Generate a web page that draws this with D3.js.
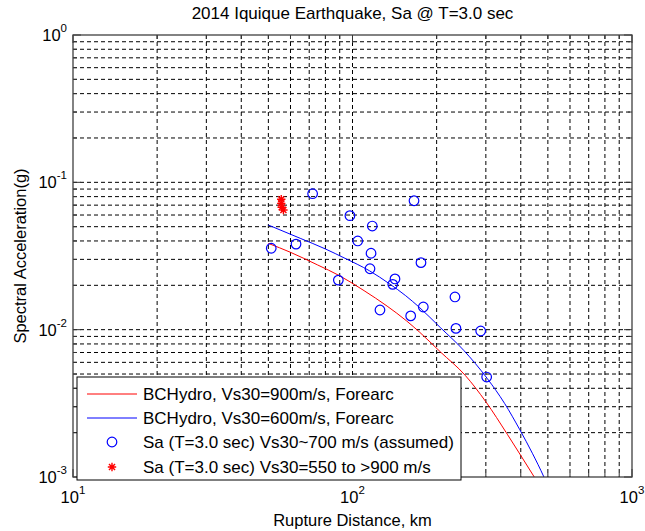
<!DOCTYPE html>
<html><head><meta charset="utf-8">
<script src="https://cdn.jsdelivr.net/npm/d3@7"></script>
<style>
body{margin:0;background:#fff;}
text{font-family:"Liberation Sans",Arial,Helvetica,sans-serif;fill:#000;}
</style>
</head><body>
<svg id="chart" width="645" height="531"></svg>
<script>
// ---------- data ----------
const titleText = "2014 Iquique Earthquake, Sa @ T=3.0 sec";
const xLabelText = "Rupture Distance, km";
const yLabelText = "Spectral Acceleration(g)";

const xMajorTicks = [10, 100, 1000];
const xTickExps = ["1", "2", "3"];
const yMajorTicks = [0.001, 0.01, 0.1, 1];
const yTickExps = ["-3", "-2", "-1", "0"];

// observed Sa, Vs30~700 m/s (assumed)
const obsDist = [51.2, 62.8, 72.0, 89.0, 97.9, 104.4, 117.7, 116.5, 115.5, 125.4,
                 141.9, 139.3, 166, 175.8, 161.5, 179.2, 232.6, 234.5, 287.5, 302];
const obsSa   = [0.0357, 0.0381, 0.0837, 0.0217, 0.0594, 0.040, 0.0505, 0.033, 0.0259, 0.0136,
                 0.0221, 0.0203, 0.075, 0.0285, 0.0124, 0.01425, 0.01667, 0.0102, 0.0098, 0.00477];

// observed Sa, Vs30=550 to >900 m/s
const starDist = [55.6, 55.6, 55.8, 56.6];
const starSa   = [0.0767, 0.0720, 0.0677, 0.0649];

// BCHydro Vs30=900 m/s forearc
const bc900Dist = [50, 60, 75, 90, 110, 133, 156, 174, 206, 253, 300, 358, 400, 450];
const bc900Sa   = [0.0385, 0.0335, 0.0275, 0.0232, 0.0184, 0.01445, 0.01148, 0.0096, 0.00708,
                   0.0049, 0.00324, 0.00195, 0.0014, 0.00098];

// BCHydro Vs30=600 m/s forearc
const bc600Dist = [50, 65, 80, 94, 115, 136, 155, 174, 206, 250, 303, 350, 397, 440, 484, 500];
const bc600Sa   = [0.0513, 0.0417, 0.0353, 0.0305, 0.0251, 0.0204, 0.0170, 0.0141, 0.01035,
                   0.00724, 0.00468, 0.00316, 0.00209, 0.00145, 0.001, 0.00087];

const legendLabels = [
  "BCHydro, Vs30=900m/s, Forearc",
  "BCHydro, Vs30=600m/s, Forearc",
  "Sa (T=3.0 sec) Vs30~700 m/s (assumed)",
  "Sa (T=3.0 sec) Vs30=550 to >900 m/s"
];

// ---------- layout ----------
const svg = d3.select("#chart");
const L = 73, R = 632, T = 35, B = 477;
const x = d3.scaleLog().domain([10, 1000]).range([L, R]);
const y = d3.scaleLog().domain([0.001, 1]).range([B, T]);
const RED = "#ff0000", BLUE = "#0000ff";

svg.append("rect").attr("width", 645).attr("height", 531).attr("fill", "#fff");
svg.append("rect").attr("x", L).attr("y", T).attr("width", R - L).attr("height", B - T).attr("fill", "#fff");

// grid
const xAll = x.ticks();
const yAll = y.ticks();
const grid = svg.append("g").attr("stroke", "#000").attr("stroke-width", 1).attr("stroke-dasharray", "4,3");
grid.selectAll("line.gx").data(xAll.filter(v => v > 10 && v < 1000)).enter().append("line")
  .attr("x1", d => x(d)).attr("x2", d => x(d)).attr("y1", T).attr("y2", B);
grid.selectAll("line.gy").data(yAll.filter(v => v > 0.001 && v < 1)).enter().append("line")
  .attr("y1", d => y(d)).attr("y2", d => y(d)).attr("x1", L).attr("x2", R);

// tick marks (inside, all four sides)
const isMajor = v => Math.abs(Math.log10(v) - Math.round(Math.log10(v))) < 1e-9;
const tk = svg.append("g").attr("stroke", "#333").attr("stroke-width", 1);
xAll.forEach(v => {
  const len = isMajor(v) ? 8 : 4;
  tk.append("line").attr("x1", x(v)).attr("x2", x(v)).attr("y1", B).attr("y2", B - len);
  tk.append("line").attr("x1", x(v)).attr("x2", x(v)).attr("y1", T).attr("y2", T + len);
});
yAll.forEach(v => {
  const len = isMajor(v) ? 8 : 4;
  tk.append("line").attr("y1", y(v)).attr("y2", y(v)).attr("x1", L).attr("x2", L + len);
  tk.append("line").attr("y1", y(v)).attr("y2", y(v)).attr("x1", R).attr("x2", R - len);
});

// clip
svg.append("clipPath").attr("id", "plotclip").append("rect")
  .attr("x", L).attr("y", T).attr("width", R - L).attr("height", B - T);

const line = d3.line().x(d => x(d[0])).y(d => y(d[1])).curve(d3.curveMonotoneX);
const plot = svg.append("g").attr("clip-path", "url(#plotclip)");
plot.append("path").datum(d3.zip(bc900Dist, bc900Sa)).attr("d", line)
  .attr("fill", "none").attr("stroke", RED).attr("stroke-width", 1);
plot.append("path").datum(d3.zip(bc600Dist, bc600Sa)).attr("d", line)
  .attr("fill", "none").attr("stroke", BLUE).attr("stroke-width", 1);

plot.selectAll("circle.obs").data(d3.zip(obsDist, obsSa)).enter().append("circle")
  .attr("cx", d => x(d[0])).attr("cy", d => y(d[1])).attr("r", 4.8)
  .attr("fill", "none").attr("stroke", BLUE).attr("stroke-width", 1.2);

function starPath(cx, cy, r) {
  const a = r * 0.72;
  return `M${cx - r},${cy}L${cx + r},${cy}M${cx},${cy - r}L${cx},${cy + r}` +
         `M${cx - a},${cy - a}L${cx + a},${cy + a}M${cx - a},${cy + a}L${cx + a},${cy - a}`;
}
plot.selectAll("path.star").data(d3.zip(starDist, starSa)).enter().append("path")
  .attr("d", d => starPath(x(d[0]), y(d[1]), 4.2))
  .attr("stroke", RED).attr("stroke-width", 1.4).attr("fill", "none");

// frame
svg.append("rect").attr("x", L).attr("y", T).attr("width", R - L).attr("height", B - T)
  .attr("fill", "none").attr("stroke", "#404040").attr("stroke-width", 1.3);

// tick labels
const fs = 16.5;
xMajorTicks.forEach((v, i) => {
  const t = svg.append("text").attr("x", x(v)).attr("y", 503).attr("text-anchor", "middle")
    .attr("font-size", fs);
  t.append("tspan").text("10");
  t.append("tspan").attr("dy", -9).attr("font-size", 11.5).text(xTickExps[i]);
});
yMajorTicks.forEach((v, i) => {
  const t = svg.append("text").attr("x", 67).attr("y", y(v) + 6).attr("text-anchor", "end")
    .attr("font-size", fs);
  t.append("tspan").text("10");
  t.append("tspan").attr("dy", -9).attr("font-size", 11.5).text(yTickExps[i]);
});

// titles
svg.append("text").attr("x", (L + R) / 2).attr("y", 19).attr("text-anchor", "middle")
  .attr("font-size", 17).text(titleText);
svg.append("text").attr("x", (L + R) / 2).attr("y", 526).attr("text-anchor", "middle")
  .attr("font-size", fs).text(xLabelText);
svg.append("text").attr("transform", `translate(26,${(T + B) / 2}) rotate(-90)`)
  .attr("text-anchor", "middle").attr("font-size", fs).text(yLabelText);

// legend
const lg = svg.append("g");
lg.append("rect").attr("x", 77).attr("y", 377).attr("width", 384).attr("height", 103)
  .attr("fill", "#fff").attr("stroke", "#000").attr("stroke-width", 1);
const rowY = [394, 418, 442, 467];
lg.append("line").attr("x1", 87).attr("x2", 137).attr("y1", rowY[0]).attr("y2", rowY[0])
  .attr("stroke", RED).attr("stroke-width", 1);
lg.append("line").attr("x1", 87).attr("x2", 137).attr("y1", rowY[1]).attr("y2", rowY[1])
  .attr("stroke", BLUE).attr("stroke-width", 1);
lg.append("circle").attr("cx", 112).attr("cy", rowY[2]).attr("r", 4.8)
  .attr("fill", "none").attr("stroke", BLUE).attr("stroke-width", 1.2);
lg.append("path").attr("d", starPath(112, rowY[3], 4.2)).attr("stroke", RED).attr("stroke-width", 1.4);
legendLabels.forEach((s, i) => {
  lg.append("text").attr("x", 143).attr("y", rowY[i] + 6).attr("font-size", 17).text(s);
});
</script>
</body></html>
